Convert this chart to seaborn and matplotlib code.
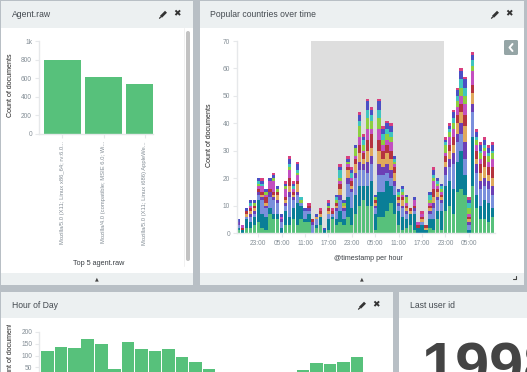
import matplotlib
matplotlib.use('Agg')
import matplotlib.pyplot as plt
import seaborn as sns
import pandas as pd
from matplotlib.patches import Rectangle, FancyBboxPatch
from matplotlib.transforms import Bbox

W, H = 527, 372

# Agent.raw
agents = ['Mozilla/5.0 (X11; Linux x86_64; rv:6.0...', 'Mozilla/4.0 (compatible; MSIE 6.0; Wi...',
          'Mozilla/5.0 (X11; Linux i686) AppleWe...']
agent_counts = [800, 615, 540]

# Hour of day
hours = list(range(24))
hour_counts = [120, 135, 132, 172, 148, 45, 156, 127, 118, 127, 92, 75, 45, 31, 18, 12, 20, 31, 25, 40, 70, 65, 72, 95]

# Popular countries over time, one list per country, bottom of the stack first
green = [1,0,2,2,3,4,2,1,7,5,5,0,3,3,5,3,5,4,4,0,2,3,0,1,5,3,4,3,6,3,7,10,12,10,10,1,6,6,8,11,7,3,1,2,3,1,0,0,0,2,1,5,1,8,10,7,15,16,14,0,17,9,5,5,4,6]
teal = [1,1,3,2,3,8,5,5,2,2,2,2,5,3,4,8,5,1,3,0,1,3,1,4,1,2,4,2,7,6,7,7,5,7,9,6,9,9,11,6,7,5,5,3,4,6,2,3,1,3,4,3,7,9,9,9,11,14,7,1,18,5,5,7,7,3]
blue = [1,0,1,2,1,2,5,3,4,5,4,2,2,7,3,3,1,3,1,3,2,0,0,2,1,3,4,3,5,6,6,6,6,5,6,2,6,6,3,3,3,2,3,2,0,1,0,1,0,2,4,4,3,4,5,9,7,6,6,2,9,8,6,5,5,5]
purple = [1,0,0,1,1,1,1,1,2,1,1,1,1,2,1,1,0,0,1,1,0,0,0,0,0,1,2,1,2,1,2,3,2,4,3,1,4,3,3,3,2,1,1,1,0,1,0,0,0,1,2,1,1,3,3,4,3,4,6,1,3,3,3,3,3,3]
sand = [0,0,1,1,1,0,1,1,0,1,2,0,1,2,1,3,0,0,0,0,1,1,0,1,0,1,2,1,3,1,3,3,2,4,3,1,5,3,4,4,3,1,2,1,1,0,0,1,1,1,2,2,1,2,3,3,4,4,6,1,4,2,3,4,2,3]
red = [0,1,1,1,1,1,1,2,1,1,1,0,1,3,1,1,0,0,1,1,0,1,0,1,1,1,2,0,1,2,2,3,2,4,5,1,4,3,3,3,2,1,1,1,1,1,1,1,1,1,3,1,1,2,2,3,3,3,4,1,3,3,3,4,3,4]
magenta = [0,1,0,1,0,1,2,1,3,4,0,1,3,3,1,2,0,0,0,0,0,0,0,0,0,0,1,0,1,1,1,3,1,4,2,0,4,2,2,3,1,0,1,1,0,2,1,1,0,1,3,1,1,1,3,3,3,3,4,1,5,2,2,2,2,3]
lime = [0,0,0,0,1,1,0,1,0,1,1,0,1,1,0,1,1,0,0,0,0,0,0,1,0,1,1,1,1,0,3,4,2,4,3,1,4,2,2,2,1,1,1,2,0,0,0,0,0,1,1,1,1,3,2,2,2,3,3,2,2,2,2,1,2,2]
cyan = [0,0,0,1,0,1,1,0,0,0,0,0,0,1,1,1,1,0,0,0,0,0,0,0,0,1,3,0,0,2,0,2,2,3,2,0,3,2,2,2,1,1,1,0,0,0,0,0,0,2,1,1,1,1,1,2,2,3,3,2,2,1,1,1,1,1]
indigo = [1,0,1,1,1,1,1,1,1,1,1,1,1,2,1,2,0,1,0,0,1,0,1,1,0,1,1,1,1,1,1,2,1,3,2,1,3,2,2,2,1,1,1,1,0,1,0,0,0,1,2,1,1,1,1,2,2,3,3,1,2,2,2,2,2,2]
pink = [0,0,0,0,0,0,1,0,0,1,0,0,1,1,1,1,0,0,1,0,0,1,0,1,1,0,1,0,1,1,0,1,1,1,1,0,1,1,1,1,0,0,0,0,0,0,0,1,0,0,1,0,0,1,1,1,1,1,1,1,1,1,1,1,1,1]

tick_pos = [5, 11, 17, 23, 29, 35, 41, 47, 53, 59]
tick_names = ['23:00', '05:00', '11:00', '17:00', '23:00', '05:00', '11:00', '17:00', '23:00', '05:00']
band_start, band_end = 18.46, 52.6

GREEN = '#57c17b'
TICK = '#848e96'
AXIS = '#e6e8ea'
TEXT = '#3a3f44'
HEADER = '#ecf0f1'

sns.set_theme(style='white')
plt.rcParams['font.family'] = ['Liberation Sans', 'DejaVu Sans']

fig = plt.figure(figsize=(W / 100, H / 100), dpi=100, facecolor='#b8bfc5')


def px_axes(left, top, right, bottom):
    return fig.add_axes([left / W, 1 - bottom / H, (right - left) / W, (bottom - top) / H], facecolor='none')


def style(ax):
    sns.despine(ax=ax)
    for s in ['left', 'bottom']:
        ax.spines[s].set_color(AXIS)
        ax.spines[s].set_linewidth(1)
    ax.tick_params(length=3, width=0.8, color=AXIS, labelcolor=TICK, labelsize=4.8, pad=2, bottom=True, left=True)


# panels
bg = fig.add_axes([0, 0, 1, 1], facecolor='none')
bg.set_xlim(0, W)
bg.set_ylim(H, 0)
bg.axis('off')


def panel(x0, x1, y0, head, y1, foot, title, icons=None):
    bg.add_patch(Rectangle((x0, y0), x1 - x0, y1 - y0, color=HEADER, lw=0))
    bg.add_patch(Rectangle((x0, head), x1 - x0, foot - head, color='white', lw=0))
    mid = (y0 + head) / 2
    bg.text(x0 + 10.5, mid, title, fontsize=6.2, color='#444a50', va='center')
    if icons:
        # pencil
        bg.plot([icons - 2, icons + 3], [mid + 2.5, mid - 2.5], color='#333333', lw=2, solid_capstyle='butt')
        bg.plot([icons - 3.5, icons - 2], [mid + 4, mid + 2.5], color='#333333', lw=0.9)
        bg.text(icons + 13.5, mid, '\u2716', fontsize=6.5, color='#333333', ha='center', va='center', family='DejaVu Sans')


panel(1, 193, 1, 27.5, 285, 273, 'Agent.raw', 163)
panel(200, 524, 1, 27.5, 285, 273, 'Popular countries over time', 495)
panel(1, 393, 292.4, 318, 380, 380, 'Hour of Day', 362)
panel(399, 527, 292.4, 318, 380, 380, 'Last user id')

bg.text(97, 279, '\u25b2', fontsize=3.5, color='#444444', ha='center', va='center', family='DejaVu Sans')
bg.text(362, 279, '\u25b2', fontsize=3.5, color='#444444', ha='center', va='center', family='DejaVu Sans')
bg.plot([513, 516, 516], [279, 279, 276], color='#444444', lw=0.8)

# scrollbar
bg.plot([183.5, 183.5], [28, 266], color='#f0f0f0', lw=0.7)
bg.add_patch(FancyBboxPatch((186, 31), 4, 230, boxstyle='round,pad=0,rounding_size=2', color='#c2c2c2', lw=0))

# Agent.raw chart
ax1 = px_axes(39, 41, 153, 134)
sns.barplot(x=agents, y=agent_counts, color=GREEN, saturation=1, width=0.9, linewidth=0, ax=ax1)
ax1.set_xlim(-0.573, 2.207)
ax1.set_ylim(0, 1000)
ax1.set_yticks([0, 200, 400, 600, 800, 1000], ['0', '200', '400', '600', '800', '1k'])
style(ax1)
ax1.tick_params(axis='x', labelsize=4.25, labelrotation=90)
ax1.set_xlabel('Top 5 agent.raw', fontsize=5.2, color=TEXT)
ax1.xaxis.set_label_coords(0.52, -1.36)
bg.text(10.5, 85, 'Count of documents', fontsize=5.1, color='#222222', rotation=90, ha='center', va='center')

# stacked chart
ax2 = px_axes(237, 41, 495, 233)
ax2.axvspan(band_start, band_end, color='#dedede', lw=0, zorder=0)
series = {'green': green, 'teal': teal, 'blue': blue, 'purple': purple, 'sand': sand, 'red': red,
          'magenta': magenta, 'lime': lime, 'cyan': cyan, 'indigo': indigo, 'pink': pink}
colors = {'green': GREEN, 'teal': '#0a7e97', 'blue': '#7a8fdc', 'purple': '#6c3fb5', 'sand': '#e0a95c', 'red': '#b5333f',
          'magenta': '#c34fc0', 'lime': '#8ccf3f', 'cyan': '#3fc4c0', 'indigo': '#4a4fc4', 'pink': '#d8407f'}
df = pd.DataFrame(series)
df['bucket'] = range(len(df))
bottom = pd.Series(0, index=df.index)
for name in series:
    sns.barplot(data=df, x='bucket', y=name, bottom=bottom.values, color=colors[name], saturation=1,
                width=0.85, linewidth=0, ax=ax2, zorder=2)
    bottom = bottom + df[name]
ax2.set_xlim(-0.44, 65.7)
ax2.set_ylim(0, 70)
ax2.set_yticks(range(0, 71, 10))
ax2.set_xticks(tick_pos, tick_names)
style(ax2)
ax2.set_xlabel('@timestamp per hour', fontsize=5.1, color=TEXT)
ax2.xaxis.set_label_coords(0.508, -0.115)
ax2.set_ylabel('')
bg.text(209.5, 135, 'Count of documents', fontsize=5.1, color='#222222', rotation=90, ha='center', va='center')

# collapse button
bg2 = fig.add_axes([0, 0, 1, 1], facecolor='none')
bg2.set_xlim(0, W)
bg2.set_ylim(H, 0)
bg2.axis('off')
bg2.add_patch(FancyBboxPatch((504, 40), 14, 15, boxstyle='round,pad=0,rounding_size=1.5', color='#95a5a6', lw=0))
bg2.plot([512.5, 509.5, 512.5], [44, 47.5, 51], color='white', lw=1.4)

# Hour of Day chart
ax3 = px_axes(39.3, 332, 392, 379.2)
sns.barplot(x=hours, y=hour_counts, color=GREEN, saturation=1, width=0.94, linewidth=0, ax=ax3)
ax3.set_xlim(-0.6, 25.6)
ax3.set_ylim(0, 200)
ax3.set_yticks([0, 50, 100, 150, 200])
ax3.set_xticks([])
style(ax3)
ylab = bg.text(11, 351, 'Count of documents', fontsize=5.1, color='#222222', rotation=90, ha='center', va='center')
ylab.set_clip_box(Bbox([[0, 0], [W, H - 325]]))
ylab.set_clip_on(True)

# metric
bg.text(421, 385, '1998', fontsize=44, fontweight='bold', color='#444444', ha='left', va='baseline', clip_on=True)

fig.savefig('out.png', dpi=100, facecolor=fig.get_facecolor())
